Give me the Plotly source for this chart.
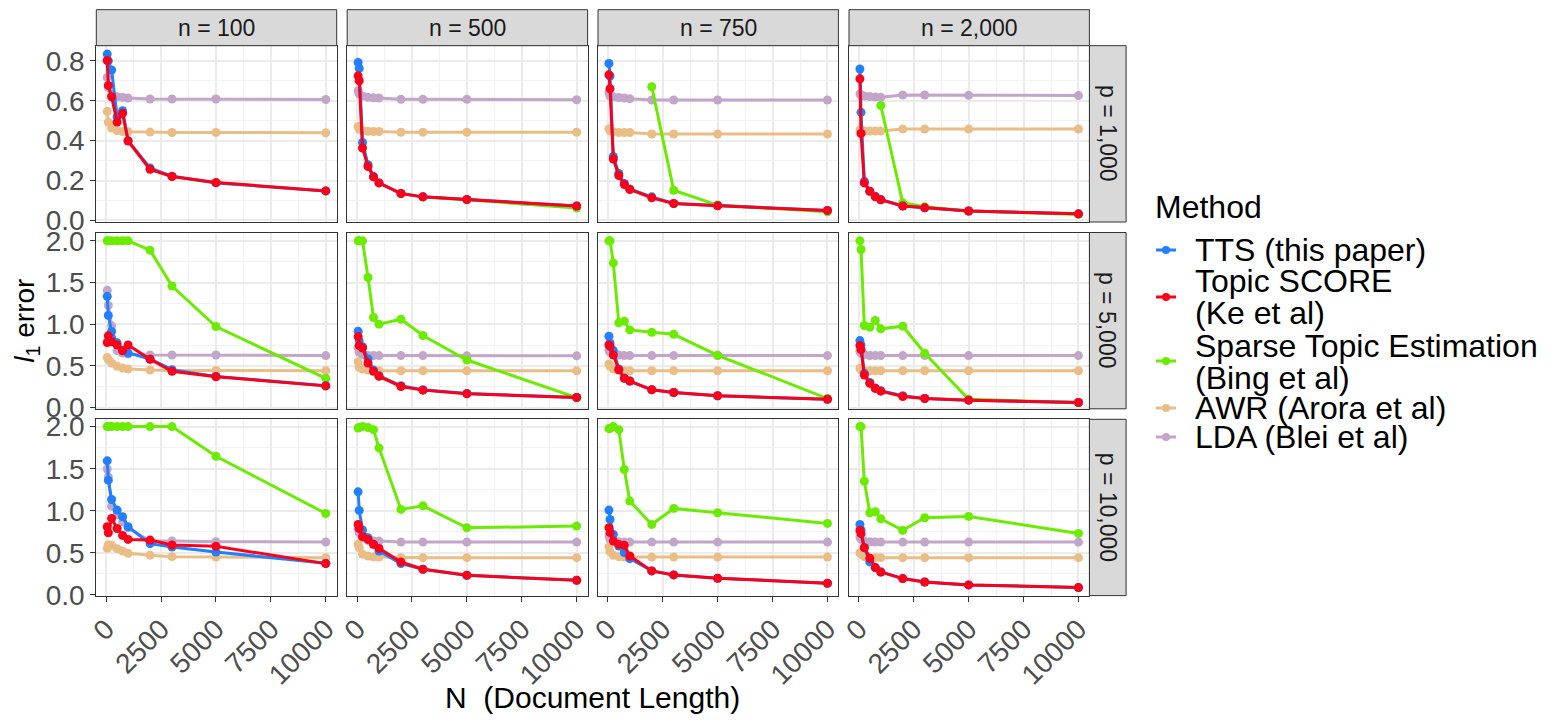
import plotly.graph_objects as go

# ---------------- data ----------------
N = [50, 100, 250, 500, 750, 1000, 2000, 3000, 5000, 10000]
n_labels = ["n = 100", "n = 500", "n = 750", "n = 2,000"]
p_labels = ["p = 1,000", "p = 5,000", "p = 10,000"]
methods = ["TTS (this paper)", "Topic SCORE (Ke et al)", "Sparse Topic Estimation (Bing et al)",
           "AWR (Arora et al)", "LDA (Blei et al)"]
legend_lines = [["TTS (this paper)"], ["Topic SCORE", "(Ke et al)"],
                ["Sparse Topic Estimation", "(Bing et al)"], ["AWR (Arora et al)"], ["LDA (Blei et al)"]]
x_ticks = [0, 2500, 5000, 7500, 10000]
x_tick_text = ["0", "2500", "5000", "7500", "10000"]

# each list: one row (p value) -> four panels (n = 100, 500, 750, 2000)
TTS_P1000 = [
    [0.834, 0.80, 0.754, 0.52, 0.55, 0.40, 0.263, 0.221, 0.188, 0.148],
    [0.792, 0.762, 0.391, 0.279, 0.221, 0.188, 0.135, 0.118, 0.105, 0.072],
    [0.787, 0.724, 0.321, 0.235, 0.185, 0.158, 0.118, 0.085, 0.075, 0.05],
    [0.759, 0.542, 0.196, 0.146, 0.121, 0.105, 0.072, 0.063, 0.047, 0.033],
]
TTS_P5000 = [
    [1.334, 1.105, 0.912, 0.776, 0.683, 0.655, 0.583, 0.454, 0.374, 0.262],
    [0.916, 0.80, 0.73, 0.583, 0.45, 0.382, 0.261, 0.213, 0.17, 0.12],
    [0.855, 0.775, 0.683, 0.462, 0.354, 0.318, 0.213, 0.181, 0.141, 0.10],
    [0.803, 0.751, 0.41, 0.302, 0.234, 0.202, 0.141, 0.109, 0.089, 0.06],
]
TTS_P10000 = [
    [1.593, 1.364, 1.134, 1.008, 0.929, 0.81, 0.609, 0.569, 0.51, 0.376],
    [1.225, 1.004, 0.771, 0.68, 0.601, 0.522, 0.372, 0.305, 0.234, 0.174],
    [1.008, 0.897, 0.719, 0.581, 0.502, 0.431, 0.285, 0.238, 0.198, 0.139],
    [0.838, 0.771, 0.562, 0.392, 0.325, 0.273, 0.194, 0.154, 0.119, 0.087],
]
SCORE_P1000 = [
    [0.802, 0.677, 0.62, 0.493, 0.537, 0.398, 0.256, 0.22, 0.19, 0.148],
    [0.725, 0.70, 0.363, 0.27, 0.218, 0.188, 0.135, 0.118, 0.105, 0.072],
    [0.730, 0.66, 0.308, 0.225, 0.18, 0.155, 0.113, 0.085, 0.073, 0.05],
    [0.710, 0.436, 0.188, 0.146, 0.118, 0.103, 0.072, 0.063, 0.047, 0.033],
]
SCORE_P5000 = [
    [0.78, 0.86, 0.79, 0.75, 0.68, 0.75, 0.58, 0.435, 0.37, 0.26],
    [0.851, 0.743, 0.715, 0.535, 0.434, 0.374, 0.253, 0.209, 0.165, 0.12],
    [0.751, 0.735, 0.631, 0.454, 0.35, 0.318, 0.213, 0.181, 0.141, 0.10],
    [0.743, 0.695, 0.39, 0.29, 0.23, 0.197, 0.133, 0.109, 0.089, 0.06],
]
SCORE_P10000 = [
    [0.81, 0.739, 0.909, 0.79, 0.707, 0.66, 0.652, 0.593, 0.577, 0.372],
    [0.838, 0.79, 0.692, 0.66, 0.601, 0.553, 0.391, 0.305, 0.234, 0.174],
    [0.799, 0.74, 0.64, 0.60, 0.589, 0.463, 0.285, 0.238, 0.198, 0.139],
    [0.767, 0.728, 0.562, 0.435, 0.325, 0.273, 0.194, 0.154, 0.119, 0.087],
]
STE_P1000 = [
    [None, None, None, None, None, None, None, None, None, None],
    [None, None, None, None, None, None, None, 0.117, 0.103, 0.062],
    [None, None, None, None, None, None, 0.670, 0.151, 0.077, 0.043],
    [None, None, None, None, None, 0.576, 0.088, 0.068, 0.047, 0.03],
]
STE_P5000 = [
    [2.0, 2.0, 2.0, 2.0, 2.0, 2.0, 1.888, 1.458, 0.972, 0.35],
    [2.0, 2.0, 2.0, 1.56, 1.08, 1.0, 1.06, 0.865, 0.57, 0.12],
    [2.0, 2.0, 1.735, 1.016, 1.036, 0.931, 0.903, 0.879, 0.627, 0.108],
    [2.0, 1.896, 0.984, 0.964, 1.044, 0.944, 0.976, 0.651, 0.10, 0.06],
]
STE_P10000 = [
    [2.0, 2.0, 2.0, 2.0, 2.0, 2.0, 2.0, 2.0, 1.648, 0.968],
    [1.984, 1.99, 2.0, 1.99, 1.964, 1.747, 1.016, 1.059, 0.798, 0.818],
    [1.976, 1.98, 2.0, 1.964, 1.49, 1.115, 0.838, 1.028, 0.977, 0.85],
    [2.0, 2.0, 1.351, 0.976, 0.988, 0.905, 0.767, 0.917, 0.933, 0.731],
]
AWR_P1000 = [
    [0.547, 0.493, 0.463, 0.45, 0.446, 0.444, 0.443, 0.441, 0.441, 0.439],
    [0.471, 0.457, 0.451, 0.447, 0.446, 0.446, 0.442, 0.442, 0.442, 0.442],
    [0.459, 0.449, 0.444, 0.441, 0.441, 0.441, 0.433, 0.433, 0.433, 0.433],
    [0.454, 0.451, 0.449, 0.448, 0.448, 0.448, 0.458, 0.458, 0.458, 0.458],
]
AWR_P5000 = [
    [0.60, 0.575, 0.535, 0.495, 0.475, 0.462, 0.45, 0.445, 0.445, 0.442],
    [0.55, 0.482, 0.462, 0.45, 0.442, 0.442, 0.442, 0.442, 0.44, 0.44],
    [0.522, 0.494, 0.462, 0.446, 0.442, 0.442, 0.442, 0.442, 0.442, 0.442],
    [0.47, 0.454, 0.442, 0.442, 0.442, 0.442, 0.442, 0.442, 0.442, 0.442],
]
AWR_P10000 = [
    [0.554, 0.597, 0.589, 0.55, 0.522, 0.494, 0.471, 0.455, 0.451, 0.443],
    [0.601, 0.561, 0.482, 0.462, 0.451, 0.451, 0.443, 0.443, 0.443, 0.443],
    [0.569, 0.514, 0.47, 0.455, 0.45, 0.45, 0.45, 0.45, 0.45, 0.45],
    [0.502, 0.482, 0.455, 0.443, 0.443, 0.443, 0.443, 0.443, 0.443, 0.443],
]
LDA_P1000 = [
    [0.717, 0.667, 0.63, 0.62, 0.617, 0.614, 0.609, 0.609, 0.609, 0.606],
    [0.650, 0.634, 0.624, 0.617, 0.615, 0.614, 0.607, 0.607, 0.607, 0.605],
    [0.640, 0.624, 0.62, 0.616, 0.614, 0.61, 0.604, 0.604, 0.604, 0.604],
    [0.634, 0.629, 0.624, 0.621, 0.619, 0.617, 0.629, 0.629, 0.627, 0.626],
]
LDA_P5000 = [
    [1.406, 1.225, 0.98, 0.683, 0.655, 0.643, 0.631, 0.631, 0.631, 0.623],
    [0.723, 0.663, 0.635, 0.623, 0.623, 0.623, 0.623, 0.623, 0.62, 0.62],
    [0.683, 0.663, 0.643, 0.631, 0.623, 0.623, 0.623, 0.623, 0.623, 0.623],
    [0.671, 0.651, 0.635, 0.623, 0.623, 0.623, 0.623, 0.623, 0.623, 0.623],
]
LDA_P10000 = [
    [1.497, 1.403, 1.055, 0.956, 0.869, 0.798, 0.64, 0.64, 0.632, 0.629],
    [0.786, 0.739, 0.68, 0.648, 0.64, 0.64, 0.628, 0.628, 0.628, 0.628],
    [0.70, 0.66, 0.64, 0.632, 0.628, 0.628, 0.628, 0.628, 0.628, 0.628],
    [0.687, 0.66, 0.64, 0.632, 0.628, 0.628, 0.628, 0.628, 0.628, 0.628],
]

# ---------------- styling ----------------
W, H = 1559, 723
OFF = 8  # page body margin of the html page
FONT = "Liberation Sans, Arial, sans-serif"
colors = ["#2180FF", "#F9001B", "#6BEB00", "#EABD87", "#C2A5C9"]
series = [
    [TTS_P1000, TTS_P5000, TTS_P10000],
    [SCORE_P1000, SCORE_P5000, SCORE_P10000],
    [STE_P1000, STE_P5000, STE_P10000],
    [AWR_P1000, AWR_P5000, AWR_P10000],
    [LDA_P1000, LDA_P5000, LDA_P10000],
]
draw_order = [4, 3, 2, 0, 1]

col_left = [96.3, 347.2, 598.0, 849.0]
col_w = 240.4
row_top = [45.7, 232.5, 419.3]
row_h = 176.3
strip_top = 9.7
strip_right_w = 36.7
y_ranges = [[-0.008, 0.876], [-0.015, 2.10], [-0.008, 2.087]]
y_dtick = [0.2, 0.5, 0.5]
TICK_SIZE = 28


def px_x(v):
    return (v - OFF) / W


def px_y(v):
    return 1 - (v - OFF) / H


fig = go.Figure()
layout = {}
shapes = []
annotations = []

for r in range(3):
    for c in range(4):
        k = r * 4 + c + 1
        xa = "x" if k == 1 else f"x{k}"
        ya = "y" if k == 1 else f"y{k}"
        xl = "xaxis" if k == 1 else f"xaxis{k}"
        yl = "yaxis" if k == 1 else f"yaxis{k}"
        layout[xl] = dict(
            domain=[px_x(col_left[c]), px_x(col_left[c] + col_w)],
            anchor=ya, range=[-447.5, 10497.5], automargin=False,
            tickmode="array", tickvals=x_ticks, ticktext=x_tick_text,
            showticklabels=(r == 2), ticks="outside" if r == 2 else "",
            ticklen=5, tickwidth=1.2, tickcolor="#333333", tickangle=-45,
            tickfont=dict(size=TICK_SIZE, color="#4D4D4D", family=FONT),
            showgrid=True, gridcolor="#EBEBEB", gridwidth=1.6,
            minor=dict(tickmode="array", tickvals=[1250, 3750, 6250, 8750],
                       showgrid=True, gridcolor="#F2F2F2", gridwidth=1),
            showline=True, linecolor="#333333", linewidth=1, mirror=True,
            zeroline=False,
        )
        lo, hi = y_ranges[r]
        d = y_dtick[r]
        yt = [round(i * d, 2) for i in range(int(hi / d) + 1)]
        ym = [round(v + d / 2, 3) for v in yt if v + d / 2 < hi]
        layout[yl] = dict(
            domain=[px_y(row_top[r] + row_h), px_y(row_top[r])],
            anchor=xa, range=y_ranges[r], automargin=False,
            tickmode="array", tickvals=yt, ticktext=[f"{v:.1f}" for v in yt],
            showticklabels=(c == 0), ticks="outside" if c == 0 else "",
            ticklen=5, tickwidth=1.2, tickcolor="#333333",
            tickfont=dict(size=TICK_SIZE, color="#4D4D4D", family=FONT),
            showgrid=True, gridcolor="#EBEBEB", gridwidth=1.6,
            minor=dict(tickmode="array", tickvals=ym,
                       showgrid=True, gridcolor="#F2F2F2", gridwidth=1),
            showline=True, linecolor="#333333", linewidth=1, mirror=True,
            zeroline=False,
        )
        for m in draw_order:
            fig.add_trace(go.Scatter(
                x=N, y=series[m][r][c], xaxis=xa, yaxis=ya,
                mode="lines+markers", name=methods[m],
                showlegend=False,
                line=dict(color=colors[m], width=3),
                marker=dict(color=colors[m], size=9),
                connectgaps=False, hoverinfo="skip",
            ))

# top strips
for c in range(4):
    shapes.append(dict(type="rect", xref="paper", yref="paper",
                       x0=px_x(col_left[c]), x1=px_x(col_left[c] + col_w),
                       y0=px_y(row_top[0]), y1=px_y(strip_top),
                       fillcolor="#D9D9D9", line=dict(color="#333333", width=1)))
    annotations.append(dict(xref="paper", yref="paper",
                            x=px_x(col_left[c] + col_w / 2), y=px_y((strip_top + row_top[0]) / 2),
                            text=n_labels[c], showarrow=False,
                            font=dict(size=23, color="#1A1A1A", family=FONT),
                            xanchor="center", yanchor="middle"))
# right strips
xr0 = col_left[3] + col_w
for r in range(3):
    shapes.append(dict(type="rect", xref="paper", yref="paper",
                       x0=px_x(xr0), x1=px_x(xr0 + strip_right_w),
                       y0=px_y(row_top[r] + row_h), y1=px_y(row_top[r]),
                       fillcolor="#D9D9D9", line=dict(color="#333333", width=1)))
    annotations.append(dict(xref="paper", yref="paper",
                            x=px_x(xr0 + strip_right_w / 2), y=px_y(row_top[r] + row_h / 2),
                            text=p_labels[r], showarrow=False, textangle=90,
                            font=dict(size=23, color="#1A1A1A", family=FONT),
                            xanchor="center", yanchor="middle"))

# axis titles
annotations.append(dict(xref="paper", yref="paper",
                        x=px_x((col_left[0] + col_left[3] + col_w) / 2), y=px_y(697),
                        text="N  (Document Length)", showarrow=False,
                        font=dict(size=30, color="#000000", family=FONT),
                        xanchor="center", yanchor="middle"))
annotations.append(dict(xref="paper", yref="paper",
                        x=px_x(27), y=px_y((row_top[0] + row_top[2] + row_h) / 2),
                        text="<i>l</i><sub>1</sub> error", showarrow=False, textangle=-90,
                        font=dict(size=28, color="#000000", family=FONT),
                        xanchor="center", yanchor="middle"))

# legend (ggplot-style, tight line spacing)
LEG_FONT = 32
annotations.append(dict(xref="paper", yref="paper", x=px_x(1153), y=px_y(207),
                        text="Method", showarrow=False, xanchor="left", yanchor="middle",
                        font=dict(size=LEG_FONT, color="#000000", family=FONT)))
sym_y = [250, 297, 361, 408, 437]
line_y = [[250], [281, 313], [346, 378], [408], [437]]
for m in range(5):
    shapes.append(dict(type="line", xref="paper", yref="paper",
                       x0=px_x(1156), x1=px_x(1176), y0=px_y(sym_y[m]), y1=px_y(sym_y[m]),
                       line=dict(color=colors[m], width=3)))
    shapes.append(dict(type="circle", xref="paper", yref="paper",
                       x0=px_x(1162), x1=px_x(1170), y0=px_y(sym_y[m] + 4), y1=px_y(sym_y[m] - 4),
                       fillcolor=colors[m], line=dict(color=colors[m], width=0)))
    for txt, yy in zip(legend_lines[m], line_y[m]):
        annotations.append(dict(xref="paper", yref="paper", x=px_x(1193), y=px_y(yy),
                                text=txt, showarrow=False, xanchor="left", yanchor="middle",
                                font=dict(size=LEG_FONT, color="#000000", family=FONT)))

layout.update(dict(
    width=W, height=H,
    margin=dict(l=0, r=0, t=0, b=0, autoexpand=False),
    paper_bgcolor="white", plot_bgcolor="white",
    font=dict(family=FONT),
    shapes=shapes, annotations=annotations,
    showlegend=False,
))
fig.update_layout(**layout)
fig.write_html("out.html")
